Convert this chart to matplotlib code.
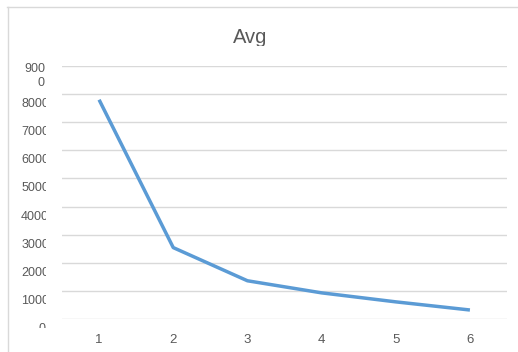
import matplotlib
matplotlib.use("Agg")
import matplotlib.pyplot as plt
from matplotlib.lines import Line2D
from matplotlib.transforms import Bbox, ScaledTranslation, TransformedBbox, blended_transform_factory

categories = [1, 2, 3, 4, 5, 6]
avg_values = [7800, 2540, 1360, 930, 610, 320]
y_ticks = [0, 1000, 2000, 3000, 4000, 5000, 6000, 7000, 8000, 9000]
y_tick_labels = ["0", "1000", "2000", "3000", "4000", "5000", "6000", "7000", "8000", "900\n0"]
title = "Avg"

W, H, DPI = 518, 352, 100
plt.rcParams['font.family'] = ['Liberation Sans', 'DejaVu Sans']
fig = plt.figure(figsize=(W / DPI, H / DPI), dpi=DPI)
fig.patch.set_facecolor("white")

left, right, top, bottom = 62, 507, 66, 319
ax = fig.add_axes([left / W, 1 - bottom / H, (right - left) / W, (bottom - top) / H])
ax.set_facecolor("white")

grid_c = "#D9D9D9"
text_c = "#595959"

ax.plot(categories, avg_values, color="#5B9BD5", linewidth=2.5, solid_capstyle="butt", zorder=3)
ax.set_xlim(0.5, 6.5)
ax.set_ylim(0, 9000)
ax.set_yticks(y_ticks)
ax.set_yticklabels([])
ax.set_xticks(categories)
ax.set_xticklabels([str(c) for c in categories])
ax.tick_params(axis="both", length=0)
ax.tick_params(axis="x", colors=text_c, labelsize=9.5, pad=11)
ax.grid(axis="y", color=grid_c, linewidth=1.0)
ax.set_axisbelow(True)
for s in ax.spines.values():
    s.set_visible(False)

# y tick labels (offset below gridlines and clipped, as in reference)
ytrans = blended_transform_factory(fig.transFigure, ax.transData)
for v, lab in zip(y_ticks, y_tick_labels):
    if "\n" in lab:
        xpx = 45
    elif len(lab) == 1:
        xpx = 45.5
    else:
        xpx = 49
    off = ScaledTranslation(0, -10 / DPI, fig.dpi_scale_trans)
    t = fig.text(xpx / W, v, lab, ha="right", va="center", ma="right",
                 fontsize=9, color=text_c, linespacing=1.3,
                 transform=ytrans + off)
    ybot = 1 - 327.5 / H
    t.set_clip_box(TransformedBbox(Bbox.from_extents(0, ybot, 46 / W, 1), fig.transFigure))
    t.set_clip_on(True)

# title
tt = fig.text(250 / W, 1 - 43 / H, title, ha="center", va="baseline", fontsize=14.5, color=text_c)
tt.set_clip_box(TransformedBbox(Bbox.from_extents(0, 1 - 46 / H, 1, 1), fig.transFigure))
tt.set_clip_on(True)

# chart area border (top and left visible)
fig.add_artist(Line2D([7 / W, 1], [1 - 6.5 / H, 1 - 6.5 / H], transform=fig.transFigure, color=grid_c, linewidth=1.0))
fig.add_artist(Line2D([7.5 / W, 7.5 / W], [0, 1 - 6.5 / H], transform=fig.transFigure, color=grid_c, linewidth=1.0))

fig.savefig("out.png", dpi=DPI)
